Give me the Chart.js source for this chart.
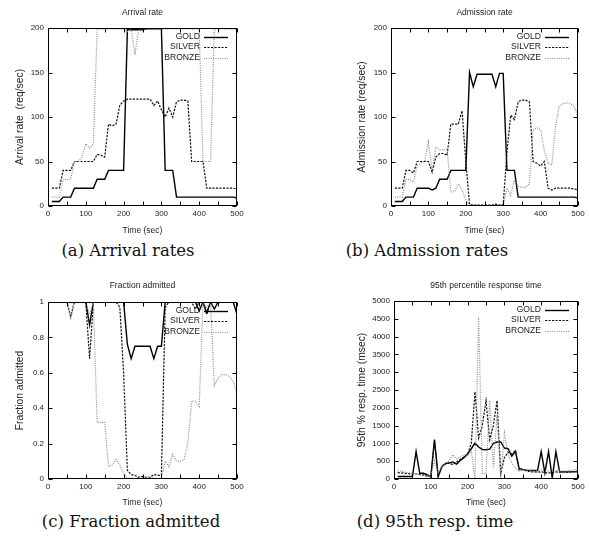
<!DOCTYPE html>
<html>
<head>
<meta charset="utf-8">
<script src="https://cdn.jsdelivr.net/npm/chart.js@4.4.1/dist/chart.umd.min.js"></script>
<style>
  body { margin: 0; background: #fff; width: 589px; height: 542px; position: relative; overflow: hidden; }
  canvas { position: absolute; }
  .cap { position: absolute; width: 240px; text-align: center; white-space: nowrap;
         font-family: "DejaVu Serif", serif; font-size: 16.5px; line-height: 20px; color: #111; }
</style>
</head>
<body>
<canvas id="c1" width="295" height="236" style="left:0;top:0"></canvas>
<canvas id="c2" width="294" height="236" style="left:295px;top:0"></canvas>
<canvas id="c3" width="295" height="243" style="left:0;top:265px"></canvas>
<canvas id="c4" width="294" height="243" style="left:295px;top:265px"></canvas>
<div class="cap" style="left:8px;top:241px">(a) Arrival rates</div>
<div class="cap" style="left:307px;top:241px">(b) Admission rates</div>
<div class="cap" style="left:11px;top:512px">(c) Fraction admitted</div>
<div class="cap" style="left:315px;top:512px">(d) 95th resp. time</div>
<script>
// sample times (sec)
const times = [10,20,30,40,50,60,70,80,90,100, 110,120,130,140,150,160,170,180,190,200,
               210,220,230,240,250,260,270,280,290,300, 310,320,330,340,350,360,370,380,390,400,
               410,420,430,440,450,460,470,480,490,500];
const classes = ['GOLD', 'SILVER', 'BRONZE'];
const xTicks = [0, 100, 200, 300, 400, 500];

// (a) arrival rate (req/sec)
const arrivalGold   = [5,5,5,10,10,10,20,20,20,20, 20,20,30,30,30,40,40,40,40,40,
                       198,198,198,198,198,199,199,199,199,199, 40,40,40,10,10,10,10,10,10,10,
                       10,10,10,10,10,10,10,10,10,9];
const arrivalSilver = [20,20,20,40,40,40,50,50,50,50, 50,50,58,57,55,92,90,92,113,118,
                       120,120,120,120,120,120,120,113,118,108, 100,110,100,117,119,119,118,50,50,50,
                       50,20,20,20,20,20,20,20,20,19];
const arrivalBronze = [10,10,10,30,30,30,50,50,55,70, 65,70,199,199,199,199,199,199,199,199,
                       196,199,170,199,199,199,199,199,199,199, 199,199,199,199,199,199,199,199,199,199,
                       50,50,50,199,199,199,199,199,199,198];

// (b) admission rate (req/sec)
const admitGold   = [5,5,5,10,10,10,20,20,20,20, 18,20,30,30,30,40,40,40,40,40,
                     150,134,148,148,148,148,148,134,149,149, 40,40,40,10,10,10,10,10,10,10,
                     10,10,10,10,10,10,10,10,10,9];
const admitSilver = [20,20,20,40,40,37,50,50,50,50, 38,55,59,59,57,92,92,92,107,50,
                     2,1,1,1,1,1,1,2,1,2, 60,102,97,117,119,119,117,50,48,45,
                     50,20,18,20,20,20,20,20,19,18];
const admitBronze = [10,10,10,30,30,27,45,48,50,72, 40,66,63,63,64,16,16,25,18,7,
                     1,1,0,0,0,0,0,0,0,0, 20,12,29,22,21,21,25,85,88,86,
                     62,48,46,90,112,115,116,115,112,100];

// (c) fraction admitted
const fracGold   = [1,1,1,1,1,1,1,1,1,1, 0.87,1,1,1,1,1,1,1,1,1,
                    0.76,0.68,0.75,0.75,0.75,0.75,0.75,0.68,0.75,0.75, 1,1,1,1,1,1,1,1,1,0.95,
                    1,0.94,1,0.96,1,1,1,1,1,0.93];
const fracSilver = [1,1,1,1,1,0.92,1,1,1,1, 0.68,1,1,1,1,1,1,1,0.97,0.6,
                    0.05,0.025,0.02,0.01,0.015,0.01,0.01,0.025,0.02,0.02, 0.97,1,1,1,1,1,1,1,0.96,1,
                    1,0.93,1,1,1,1,1,1,1,1];
const fracBronze = [1,1,1,1,1,0.9,1,1,1,1, 0.93,1,0.32,0.32,0.32,0.07,0.08,0.11,0.08,0.03,
                    0.005,0.005,0,0.01,0.005,0,0.01,0.005,0,0.005, 0.1,0.07,0.14,0.1,0.1,0.11,0.2,0.44,0.44,0.41,
                    1,0.97,1,0.53,0.57,0.59,0.59,0.58,0.55,0.48];

// (d) 95th percentile response time (msec)
const respGold   = [70,70,70,70,70,770,160,160,120,60, 1110,60,350,440,450,480,420,520,600,700,
                    850,1010,900,830,820,840,1000,1040,1040,870, 850,640,780,300,270,250,240,240,240,770,
                    170,770,30,770,200,200,200,200,200,200];
const respSilver = [180,170,160,150,140,140,130,110,80,60, 1050,100,350,420,450,400,480,550,620,700,
                    1000,2450,1150,1500,2200,1100,1500,2200,150,600, 750,700,800,250,260,230,200,200,190,200,
                    180,170,180,200,190,200,190,200,210,230];
const respBronze = [230,220,190,170,160,140,120,110,90,80, 500,150,380,450,520,680,560,620,680,650,
                    800,0,4550,150,150,2200,300,1800,0,1280, 700,450,300,220,260,260,230,220,230,250,
                    220,230,220,240,230,230,230,240,250,320];

const FONT = '"Liberation Sans", Arial, sans-serif';

const lineStyles = [
    { borderColor: '#000', borderWidth: 1.4, borderDash: [] },
    { borderColor: '#111', borderWidth: 1.2, borderDash: [2.2, 1.3] },
    { borderColor: '#8c8c8c', borderWidth: 1.2, borderDash: [1, 1.3] }
];

// gnuplot look: full box, inward ticks on all four sides, title and key drawn here
const gnuFrame = {
    id: 'gnuFrame',
    afterDatasetsDraw(chart, args, opts) {
        const { ctx, chartArea: a, scales: { x, y } } = chart;
        const L = Math.round(a.left) + 0.5, R = Math.round(a.right) - 0.5;
        const T = Math.round(a.top) + 0.5, B = Math.round(a.bottom) - 0.5;
        ctx.save();
        ctx.strokeStyle = '#000';
        ctx.lineWidth = 1;
        ctx.setLineDash([]);
        ctx.strokeRect(L, T, R - L, B - T);
        ctx.beginPath();
        x.ticks.forEach(t => {
            const px = Math.round(x.getPixelForValue(t.value)) + 0.5;
            ctx.moveTo(px, B); ctx.lineTo(px, B - 4);
            ctx.moveTo(px, T); ctx.lineTo(px, T + 4);
        });
        y.ticks.forEach(t => {
            const py = Math.round(y.getPixelForValue(t.value)) + 0.5;
            ctx.moveTo(L, py); ctx.lineTo(L + 4, py);
            ctx.moveTo(R, py); ctx.lineTo(R - 4, py);
        });
        ctx.stroke();

        ctx.fillStyle = '#222';
        ctx.font = '8.5px ' + FONT;
        ctx.textAlign = 'center';
        ctx.textBaseline = 'middle';
        ctx.fillText(opts.title, (a.left + a.right) / 2, opts.titleY);

        // key
        ctx.font = '8.6px ' + FONT;
        ctx.textAlign = 'right';
        chart.data.datasets.forEach((ds, i) => {
            const ky = a.top + 8.5 + i * 10.5;
            ctx.fillStyle = '#222';
            ctx.fillText(ds.label, a.right - 37, ky);
            ctx.beginPath();
            ctx.strokeStyle = ds.borderColor;
            ctx.lineWidth = ds.borderWidth;
            ctx.setLineDash(ds.borderDash);
            ctx.moveTo(a.right - 33, Math.round(ky) + 0.5);
            ctx.lineTo(a.right - 9, Math.round(ky) + 0.5);
            ctx.stroke();
        });
        ctx.restore();
    }
};

function makeChart(id, cfg) {
    const datasets = cfg.series.map((vals, i) => ({
        label: classes[i],
        data: times.map((t, j) => ({ x: t, y: vals[j] })),
        borderColor: lineStyles[i].borderColor,
        borderWidth: lineStyles[i].borderWidth,
        borderDash: lineStyles[i].borderDash,
        pointRadius: 0,
        tension: 0,
        fill: false,
        order: 3 - i
    }));
    return new Chart(document.getElementById(id), {
        type: 'line',
        data: { datasets },
        options: {
            responsive: false,
            animation: false,
            layout: { padding: cfg.pad },
            plugins: {
                legend: { display: false },
                tooltip: { enabled: false },
                gnuFrame: { title: cfg.title, titleY: cfg.titleY }
            },
            scales: {
                x: {
                    type: 'linear', min: 0, max: 500,
                    grid: { display: false, drawTicks: false },
                    border: { display: false },
                    ticks: {
                        stepSize: 50, autoSkip: false, maxRotation: 0, padding: 3,
                        color: '#222', font: { family: FONT, size: 8 },
                        callback: v => xTicks.includes(v) ? String(v) : ''
                    },
                    title: { display: true, text: 'Time (sec)', color: '#222',
                             font: { family: FONT, size: 8.5 }, padding: 0 },
                    afterFit: s => { s.height = cfg.xH; }
                },
                y: {
                    min: cfg.yMin, max: cfg.yMax,
                    grid: { display: false, drawTicks: false },
                    border: { display: false },
                    ticks: {
                        stepSize: cfg.yStep, autoSkip: false, padding: 4,
                        color: '#222', font: { family: FONT, size: 8 },
                        callback: v => String(Math.round(v * 100) / 100)
                    },
                    title: { display: true, text: cfg.yLabel, color: '#222',
                             font: { family: FONT, size: 10.3 }, padding: 0 },
                    afterFit: s => { s.width = cfg.yW; }
                }
            }
        },
        plugins: [gnuFrame]
    });
}

makeChart('c1', {
    title: 'Arrival rate', titleY: 13, yLabel: 'Arrival rate  (req/sec)',
    yMin: 0, yMax: 200, yStep: 50, series: [arrivalGold, arrivalSilver, arrivalBronze],
    pad: { left: 14, right: 58, top: 28, bottom: 0 }, yW: 34, xH: 30
});
makeChart('c2', {
    title: 'Admission rate', titleY: 13, yLabel: 'Admission rate (req/sec)',
    yMin: 0, yMax: 200, yStep: 50, series: [admitGold, admitSilver, admitBronze],
    pad: { left: 61, right: 11, top: 28, bottom: 0 }, yW: 35, xH: 30
});
makeChart('c3', {
    title: 'Fraction admitted', titleY: 21, yLabel: 'Fraction admitted',
    yMin: 0, yMax: 1, yStep: 0.2, series: [fracGold, fracSilver, fracBronze],
    pad: { left: 14, right: 58, top: 37, bottom: 0 }, yW: 34, xH: 29
});
makeChart('c4', {
    title: '95th percentile response time', titleY: 21, yLabel: '95th % resp. time (msec)',
    yMin: 0, yMax: 5000, yStep: 500, series: [respGold, respSilver, respBronze],
    pad: { left: 61, right: 11, top: 36, bottom: 0 }, yW: 38, xH: 29
});
</script>
</body>
</html>
